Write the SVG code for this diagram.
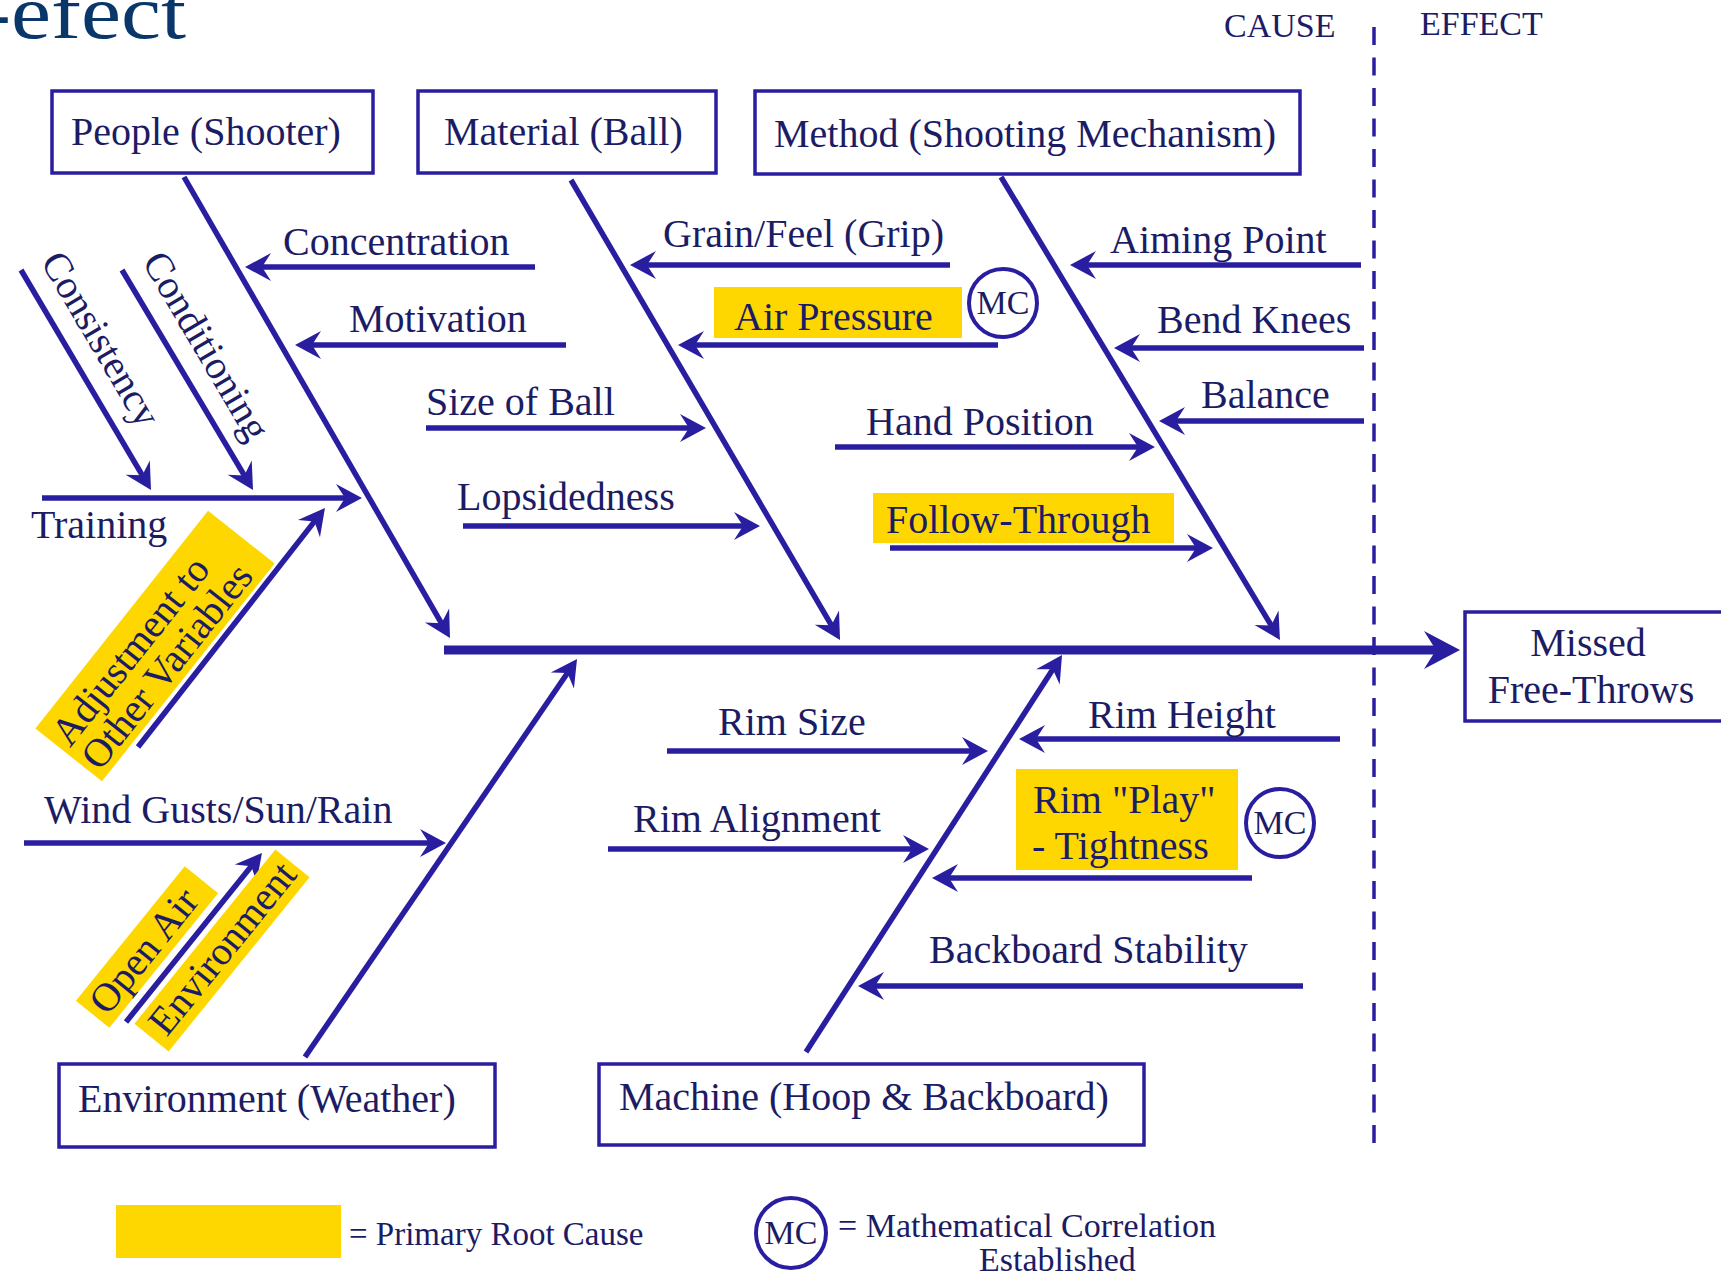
<svg xmlns="http://www.w3.org/2000/svg" width="1721" height="1280" viewBox="0 0 1721 1280">
<style>
  text { font-family: "Liberation Serif", "Times New Roman", serif; fill: #1c1c64; font-size: 40px; }
  .box { fill: #ffffff; stroke: #2a1ea0; stroke-width: 3.5; }
  .hl { fill: #ffd700; stroke: none; }
  .ln { fill: none; stroke: #2a1ea0; stroke-width: 5.5; marker-end: url(#ah); }
  .bone { fill: none; stroke: #2a1ea0; stroke-width: 5.5; marker-end: url(#ah); }
  .spine { fill: none; stroke: #2a1ea0; stroke-width: 9; marker-end: url(#ahb); }
  .mc { fill: #ffffff; stroke: #2a1ea0; stroke-width: 4; }
  .mct { font-size: 34px; text-anchor: middle; }
  .lg { font-size: 34px; }
  .mid { text-anchor: middle; }
</style>
<defs>
  <marker id="ah" markerUnits="userSpaceOnUse" viewBox="-20 -16 34 32" refX="0" refY="0" markerWidth="34" markerHeight="32" orient="auto">
    <path d="M10,0 L-16,-14 L-7,0 L-16,14 Z" fill="#2a1ea0"/>
  </marker>
  <marker id="ahb" markerUnits="userSpaceOnUse" viewBox="-26 -22 44 44" refX="0" refY="0" markerWidth="44" markerHeight="44" orient="auto">
    <path d="M14,0 L-22,-19 L-10,0 L-22,19 Z" fill="#2a1ea0"/>
  </marker>
</defs>
<rect x="0" y="0" width="1721" height="1280" fill="#ffffff"/>

<!-- title fragment (cut at the edge, as in the source) -->
<text x="-19" y="38" textLength="205" lengthAdjust="spacingAndGlyphs" style="font-size:76px; fill:#0a376a;">-efect</text>

<!-- cause / effect -->
<g id="cause-effect">
  <text x="1224" y="37" style="font-size:34px">CAUSE</text>
  <text x="1420" y="35" style="font-size:34px">EFFECT</text>
  <line x1="1374" y1="27" x2="1374" y2="1143" stroke="#2a1ea0" stroke-width="3.5" stroke-dasharray="18 12.5"/>
</g>

<!-- highlight backgrounds -->
<g id="highlights">
  <rect class="hl" x="714" y="287" width="248" height="51"/>
  <rect class="hl" x="873" y="493" width="301" height="50"/>
  <rect class="hl" x="1016" y="769" width="222" height="101"/>
</g>

<!-- connectors -->
<g id="connectors">
  <path class="spine" d="M444,650 H1446"/>
  <path class="bone" d="M184,177 L445,629.3"/>
  <path class="bone" d="M571,180 L835,631.4"/>
  <path class="bone" d="M1001,177 L1274.8,631.4"/>
  <path class="bone" d="M305,1057 L571.4,667.3"/>
  <path class="bone" d="M806,1052 L1056.6,663.4"/>

  <path class="ln" d="M535,267 H255"/>
  <path class="ln" d="M566,345 H305"/>
  <path class="ln" d="M42,498 H352"/>
  <path class="ln" d="M21,270 L145.9,481.4"/>
  <path class="ln" d="M122,270 L247.9,481.4"/>
  <path class="ln" d="M138,747 L318.8,515.9"/>
  <path class="ln" d="M24,843 H436"/>
  <path class="ln" d="M126,1022 L255.7,860.8"/>

  <path class="ln" d="M950,265 H640"/>
  <path class="ln" d="M998,345 H688"/>
  <path class="ln" d="M426,428 H696"/>
  <path class="ln" d="M463,526 H750"/>

  <path class="ln" d="M1361,265 H1080"/>
  <path class="ln" d="M1364,348 H1124"/>
  <path class="ln" d="M1364,421 H1169"/>
  <path class="ln" d="M835,447 H1145"/>
  <path class="ln" d="M890,548 H1203"/>

  <path class="ln" d="M667,751 H978"/>
  <path class="ln" d="M1340,739 H1029"/>
  <path class="ln" d="M608,849 H919"/>
  <path class="ln" d="M1252,878 H942"/>
  <path class="ln" d="M1303,986 H868"/>
</g>

<!-- category nodes -->
<g id="people"><rect class="box" x="52" y="91" width="321" height="82"/><text x="71" y="145">People (Shooter)</text></g>
<g id="material"><rect class="box" x="418" y="91" width="298" height="82"/><text x="444" y="145">Material (Ball)</text></g>
<g id="method"><rect class="box" x="755" y="91" width="545" height="83"/><text x="774" y="147">Method (Shooting Mechanism)</text></g>
<g id="environment"><rect class="box" x="59" y="1064" width="436" height="83"/><text x="78" y="1112">Environment (Weather)</text></g>
<g id="machine"><rect class="box" x="599" y="1064" width="545" height="81"/><text x="619" y="1110">Machine (Hoop &amp; Backboard)</text></g>
<g id="effect"><rect class="box" x="1465" y="612" width="260" height="109"/><text class="mid" x="1588" y="656">Missed</text><text class="mid" x="1591" y="703">Free-Throws</text></g>

<!-- cause labels -->
<g id="lbl-concentration"><text x="283" y="255">Concentration</text></g>
<g id="lbl-motivation"><text x="349" y="332">Motivation</text></g>
<g id="lbl-training"><text x="31" y="538">Training</text></g>
<g id="lbl-consistency"><text transform="translate(40,261.5) rotate(59.5)">Consistency</text></g>
<g id="lbl-conditioning"><text transform="translate(141.5,261.5) rotate(59.5)">Conditioning</text></g>
<g id="lbl-adjustment" transform="translate(155,646) rotate(-51.6)">
  <rect class="hl" x="-139" y="-42.5" width="278" height="85"/>
  <text x="-133" y="-3">Adjustment to</text>
  <text x="-133" y="35">Other Variables</text>
</g>
<g id="lbl-wind"><text x="44" y="823">Wind Gusts/Sun/Rain</text></g>
<g id="lbl-openair" transform="translate(147,947) rotate(-51)">
  <rect class="hl" x="-86.5" y="-21.5" width="173" height="43"/>
  <text class="mid" x="-5" y="13">Open Air</text>
</g>
<g id="lbl-openenv" transform="translate(222,950.5) rotate(-51)">
  <rect class="hl" x="-112" y="-22" width="224" height="44"/>
  <text class="mid" x="2" y="12">Environment</text>
</g>

<g id="lbl-grain"><text x="663" y="247">Grain/Feel (Grip)</text></g>
<g id="lbl-air"><text x="734" y="330">Air Pressure</text></g>
<g id="mc-air"><circle class="mc" cx="1003" cy="303" r="34"/><text class="mct" x="1003" y="314">MC</text></g>
<g id="lbl-size"><text x="426" y="415">Size of Ball</text></g>
<g id="lbl-lopsided"><text x="457" y="510">Lopsidedness</text></g>

<g id="lbl-aiming"><text x="1110" y="253">Aiming Point</text></g>
<g id="lbl-knees"><text x="1157" y="333">Bend Knees</text></g>
<g id="lbl-balance"><text x="1201" y="408">Balance</text></g>
<g id="lbl-hand"><text x="866" y="435">Hand Position</text></g>
<g id="lbl-follow"><text x="886" y="533">Follow-Through</text></g>

<g id="lbl-rimsize"><text x="718" y="735">Rim Size</text></g>
<g id="lbl-rimheight"><text x="1088" y="728">Rim Height</text></g>
<g id="lbl-rimalign"><text x="633" y="832">Rim Alignment</text></g>
<g id="lbl-rimplay"><text x="1033" y="813">Rim "Play"</text><text x="1032" y="859">- Tightness</text></g>
<g id="mc-rim"><circle class="mc" cx="1280" cy="823" r="34"/><text class="mct" x="1280" y="834">MC</text></g>
<g id="lbl-backboard"><text x="929" y="963">Backboard Stability</text></g>

<!-- legend -->
<g id="legend">
  <rect class="hl" x="116" y="1205" width="225" height="53"/>
  <text x="349" y="1245" style="font-size:33px">= Primary Root Cause</text>
  <circle class="mc" cx="791" cy="1233" r="35"/>
  <text class="mct" x="791" y="1244">MC</text>
  <text class="lg" x="838" y="1237">= Mathematical Correlation</text>
  <text class="lg" x="979" y="1271">Established</text>
</g>
</svg>
